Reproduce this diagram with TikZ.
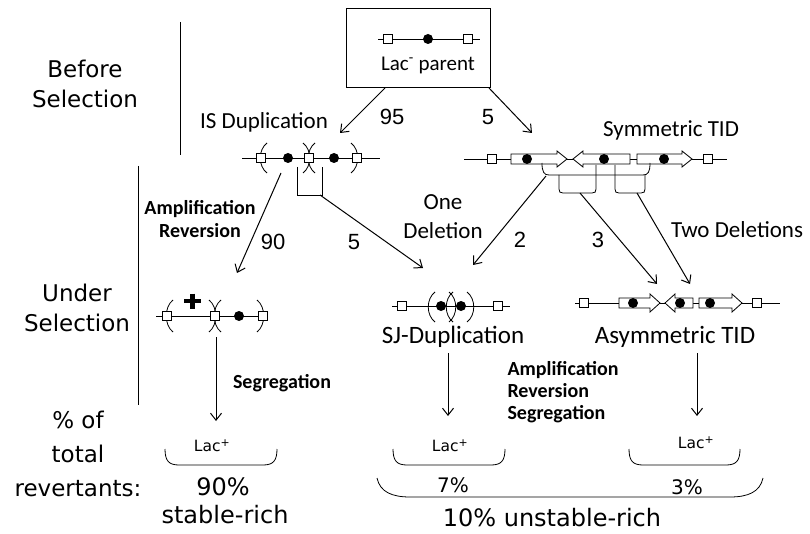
\documentclass[tikz,border=0pt]{standalone}
\usepackage{fontspec}
\setmainfont{Carlito}
\newfontfamily\dejavu{DejaVu Sans}
\newfontfamily\arialfont{Liberation Sans}
\usetikzlibrary{arrows.meta}
\tikzset{isbox/.style={draw, fill=white, inner sep=0pt, minimum size=8.5pt, line width=0.8pt},
  gene/.style={circle, fill=black, inner sep=0pt, minimum size=10pt},
  lbl/.style={font=\fontsize{23}{29}\selectfont, align=center, inner sep=0pt},
  bigl/.style={font=\fontsize{25}{29}\selectfont, inner sep=0pt},
  side/.style={font=\dejavu\fontsize{23}{30}\selectfont, align=center, inner sep=0pt},
  num/.style={font=\arialfont\fontsize{22}{24}\selectfont, inner sep=0pt},
  proc/.style={font=\bfseries\fontsize{20}{23}\selectfont, inner sep=0pt},
  lac/.style={font=\dejavu\fontsize{15.5}{18}\selectfont, inner sep=0pt},
  pct/.style={font=\dejavu\fontsize{24}{28}\selectfont, inner sep=0pt},
  thinl/.style={line width=0.8pt}}

\begin{document}
\begin{tikzpicture}[x=1pt, y=-1pt, line width=1pt, >={Straight Barb[length=7pt,width=11pt]}]
    \useasboundingbox (0,0) rectangle (810,534);
    % left column
    \draw (180,22) -- (180,155);
    \draw (138,166) -- (138,405);
    \node [side] (before) at (85,84) {Before\\Selection};
    \node [side] (under) at (77,308) {Under\\Selection};
    \node [side, font=\dejavu\fontsize{23}{34}\selectfont] (total) at (78,454) {\% of\\total\\revertants:};

    % parent
    \node [draw, minimum width=144pt, minimum height=79pt, inner sep=0pt] (parent) at (418,48.5) {};
    \draw [thinl] (378,39) -- (480,39);
    \node [isbox] (pa) at (388,39) {};
    \node [isbox] (pb) at (468,39) {};
    \node [gene] (pg) at (428,39) {};
    \node [lbl, font=\fontsize{21}{24}\selectfont] (lacm) at (428,65) {Lac\textsuperscript{-} parent};
    \coordinate (p95) at (385,88);
    \coordinate (p5) at (489,88);
    \coordinate (isin) at (340,133);
    \coordinate (tidin) at (532,133);
    \draw [->] (p95) -- (isin);
    \draw [->] (p5) -- (tidin);
    \node [num] (n95) at (392,117) {95};
    \node [num] (n5a) at (488,117) {5};

    % IS duplication
    \node [lbl] (islbl) at (264,122) {IS Duplication};
    \draw [thinl] (242,158) -- (380,158);
    \foreach \x in {261,309}
      \draw [thinl] (\x+6,143) .. controls (\x-3,150) and (\x-3,166) .. (\x+6,173);
    \foreach \x in {309,357}
      \draw [thinl] (\x-6,143) .. controls (\x+3,150) and (\x+3,166) .. (\x-6,173);
    \foreach \x in {261,309,357}
      \node [isbox] (is\x) at (\x,158) {};
    \foreach \x in {288,334}
      \node [gene] (isg\x) at (\x,158) {};
    \draw [thinl] (297,167) -- (297,195) -- (322,195) -- (322,167);
    \coordinate (isfoot) at (281,173);
    \coordinate (ampin) at (237,273);
    \coordinate (isbr) at (320,195);
    \coordinate (sjin) at (423,268);
    \draw [->] (isfoot) -- (ampin);
    \draw [->] (isbr) -- (sjin);
    \node [proc, align=center] (amprev) at (200,219) {Amplification\\Reversion};
    \node [num] (n90) at (273,242) {90};
    \node [num] (n5b) at (354,242) {5};

    % symmetric TID
    \node [lbl] (symlbl) at (671,130) {Symmetric TID};
    \draw [thinl] (464,159) -- (727,159);
    \foreach \a/\b in {511/567, 637/692}
      \draw [thinl, fill=white] (\a,154) -- (\b-10,154) -- (\b-10,151) -- (\b,159) -- (\b-10,167) -- (\b-10,164) -- (\a,164) -- cycle;
    \draw [thinl, fill=white] (630,154) -- (583,154) -- (583,151) -- (573,159) -- (583,167) -- (583,164) -- (630,164) -- cycle;
    \node [isbox] (sa) at (492,159) {};
    \node [isbox] (sb) at (708,159) {};
    \foreach \x in {527,604,664}
      \node [gene] (sg\x) at (\x,159) {};
    \draw [thinl] (542,163) .. controls (542,172) and (544,175) .. (549,175) -- (643,175) .. controls (648,175) and (650,172) .. (650,163);
    \draw [thinl] (559,175) -- (559,189) .. controls (559,192) and (560,193) .. (563,193) -- (592,193) .. controls (595,193) and (596,192) .. (596,189) -- (596,165);
    \draw [thinl] (615,165) -- (615,189) .. controls (615,192) and (616,193) .. (619,193) -- (641,193) .. controls (644,193) and (645,192) .. (645,189) -- (645,175);
    \coordinate (tida) at (546,176);
    \coordinate (tidb) at (580,193);
    \coordinate (tidc) at (637,193);
    \coordinate (sjin2) at (473,265);
    \coordinate (asyin1) at (657,284);
    \coordinate (asyin2) at (690,284);
    \draw [->] (tida) -- (sjin2);
    \draw [->] (tidb) -- (asyin1);
    \draw [->] (tidc) -- (asyin2);
    \node [lbl] (one) at (443,217) {One\\Deletion};
    \node [num] (n2) at (520,240) {2};
    \node [num] (n3) at (598,240) {3};
    \node [lbl] (two) at (737,230) {Two Deletions};

    % amplified IS duplication
    \draw [thinl] (156,316) -- (267,316);
    \foreach \x in {167,215}
      \draw [thinl] (\x+6,300) .. controls (\x-3,307) and (\x-3,325) .. (\x+6,332);
    \foreach \x in {215,263}
      \draw [thinl] (\x-6,300) .. controls (\x+3,307) and (\x+3,325) .. (\x-6,332);
    \foreach \x in {167,215,263}
      \node [isbox] (am\x) at (\x,316) {};
    \node [gene] (amg) at (239,316) {};
    \draw [line width=4.5pt] (184,301) -- (201,301) (192.5,293.5) -- (192.5,308.5);

    % SJ duplication
    \draw [thinl] (392,306) -- (510,306);
    \foreach \x in {429,447}
      \draw [thinl] (\x+6,292) .. controls (\x-3,299) and (\x-3,315) .. (\x+6,322);
    \foreach \x in {455,473}
      \draw [thinl] (\x-6,292) .. controls (\x+3,299) and (\x+3,315) .. (\x-6,322);
    \node [isbox] (ja) at (402,306) {};
    \node [isbox] (jb) at (498,306) {};
    \node [gene] (jg1) at (441,306) {};
    \node [gene] (jg2) at (461,306) {};
    \node [bigl] (sjlbl) at (453,337) {SJ-Duplication};

    % asymmetric TID
    \draw [thinl] (575,303) -- (780,303);
    \foreach \a/\b in {619/660, 699/742}
      \draw [thinl, fill=white] (\a,298) -- (\b-10,298) -- (\b-10,294) -- (\b,303) -- (\b-10,312) -- (\b-10,308) -- (\a,308) -- cycle;
    \draw [thinl, fill=white] (693,298) -- (675,298) -- (675,294) -- (665,303) -- (675,312) -- (675,308) -- (693,308) -- cycle;
    \node [isbox] (ya) at (584,303) {};
    \node [isbox] (yb) at (757,303) {};
    \foreach \x in {633,680,710}
      \node [gene] (yg\x) at (\x,303) {};
    \node [bigl] (asylbl) at (675,337) {Asymmetric TID};

    % selection
    \coordinate (ampfoot) at (216,337);
    \coordinate (ampout) at (216,421);
    \coordinate (sjfoot) at (448,353);
    \coordinate (sjout) at (448,416);
    \coordinate (asyfoot) at (697,353);
    \coordinate (asyout) at (697,416);
    \draw [->] (ampfoot) -- (ampout);
    \draw [->] (sjfoot) -- (sjout);
    \draw [->] (asyfoot) -- (asyout);
    \node [proc] (seg) at (282,383) {Segregation};
    \node [proc, font=\bfseries\fontsize{20}{22}\selectfont, align=left, anchor=west] (ars) at (507,392) {Amplification\\Reversion\\Segregation};

    % revertants
    \node [lac] (lp1) at (212,446) {Lac\textsuperscript{+}};
    \node [lac] (lp2) at (450,446) {Lac\textsuperscript{+}};
    \node [lac] (lp3) at (696,443) {Lac\textsuperscript{+}};
    \foreach \a/\b in {165/277, 393/505, 629/740}
      \draw [thinl] (\a,449) .. controls (\a,461) and (\a+4,465) .. (\a+14,465) -- (\b-14,465) .. controls (\b-4,465) and (\b,461) .. (\b,449);
    \draw [thinl] (377,478) .. controls (380,492) and (392,497) .. (410,497) -- (730,497) .. controls (748,497) and (760,492) .. (763,478);
    \node [pct] (p90) at (223,487) {90\%};
    \node [pct] (stable) at (225,515) {stable-rich};
    \node [pct, font=\dejavu\fontsize{20}{24}\selectfont] (p7) at (453,485) {7\%};
    \node [pct, font=\dejavu\fontsize{20}{24}\selectfont] (p3) at (687,487) {3\%};
    \node [pct] (unstable) at (552,518) {10\% unstable-rich};
  \end{tikzpicture}
\end{document}
